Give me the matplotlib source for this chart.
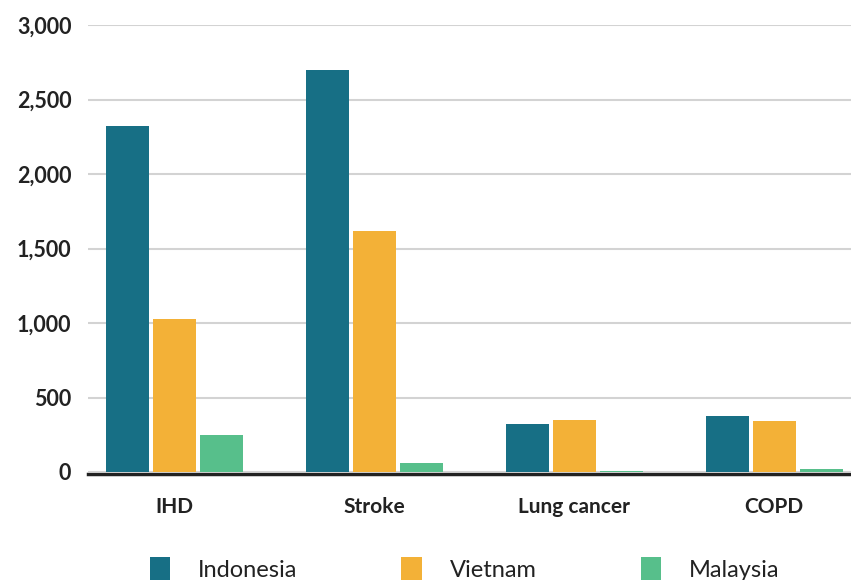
import matplotlib
matplotlib.use("Agg")
import matplotlib.pyplot as plt
from matplotlib.patches import Patch
from matplotlib.ticker import FuncFormatter
import numpy as np

categories = ["IHD", "Stroke", "Lung cancer", "COPD"]
series_names = ["Indonesia", "Vietnam", "Malaysia"]
indonesia = [2325, 2700, 322, 376]
vietnam = [1030, 1620, 349, 342]
malaysia = [250, 60, 10, 20]
colors = ["#176F85", "#F3B137", "#57BF8B"]

plt.rcParams["font.family"] = ["Lato", "DejaVu Sans"]

fig = plt.figure(figsize=(8.51, 5.8), dpi=100)
ax = fig.add_axes([88 / 851, 108 / 580, 1 - 88 / 851, (472 - 25) / 580])

x = np.arange(len(categories))
width = 0.215
step = 0.235
for i, (vals, c) in enumerate(zip([indonesia, vietnam, malaysia], colors)):
    ax.bar(x + (i - 1) * step, vals, width=width, color=c, zorder=3)

ax.set_xlim(-0.43, 3.385)
ax.set_ylim(0, 3000)
ax.set_yticks(np.arange(0, 3001, 500))
ax.yaxis.set_major_formatter(FuncFormatter(lambda v, p: f"{int(v):,}"))
ax.grid(axis="y", color="#d3d3d3", linewidth=1.5, zorder=0)
for s in ["top", "right", "left"]:
    ax.spines[s].set_visible(False)
ax.spines["bottom"].set_color("#222222")
ax.spines["bottom"].set_linewidth(2.5)
ax.spines["bottom"].set_position(("outward", 1.2))
ax.tick_params(axis="y", length=0, pad=12, labelsize=15.5, labelcolor="#222222")
ax.tick_params(axis="x", length=0, pad=17, labelsize=15, labelcolor="#222222")
ax.set_xticks(x)
ax.set_xticklabels(categories)
for lab in ax.get_xticklabels() + ax.get_yticklabels():
    lab.set_fontweight("bold")

handles = [Patch(facecolor=c, edgecolor="none") for c in colors]
fig.legend(handles, series_names, loc="center", bbox_to_anchor=(0.546, 0.018),
           ncol=3, frameon=False, fontsize=17, handlelength=0.85, handleheight=1.25,
           handletextpad=1.2, columnspacing=4.4, labelcolor="#222222")

fig.savefig("out.png", dpi=100)
